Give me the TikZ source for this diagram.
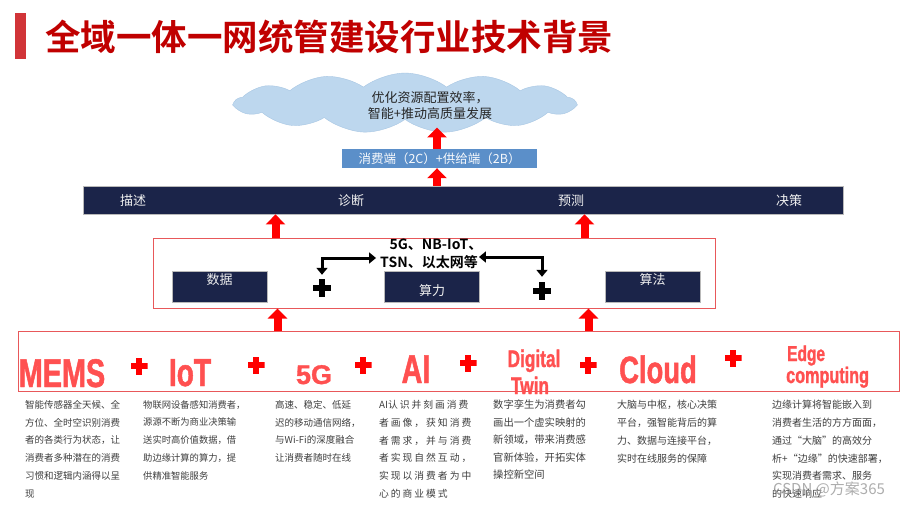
\documentclass[tikz,border=0pt]{standalone}
\usepackage{fontspec}
\setmainfont{Noto Sans CJK SC}[BoldFont={Noto Sans CJK SC Bold}]
\newfontfamily\wordfont{Liberation Sans}[FakeStretch=0.72,BoldFeatures={FakeBold=1.2}]
\newfontfamily\wordfontn{Liberation Sans}[BoldFeatures={FakeBold=1.2}]
\usetikzlibrary{arrows.meta,shapes.symbols,calc}
\definecolor{titlered}{HTML}{C00000}
\definecolor{barred}{HTML}{D13438}
\definecolor{navy}{HTML}{1B2449}
\definecolor{steel}{HTML}{5B8FC9}
\definecolor{cloudc}{HTML}{BDD7EE}
\definecolor{cloudd}{HTML}{A7C6E3}
\definecolor{boxred}{HTML}{E8585A}
\definecolor{wordred}{HTML}{FF5050}
\definecolor{desc}{HTML}{3F3F3F}
\tikzset{
  darkbox/.style={fill=navy, draw=gray!55, line width=0.8pt, minimum width=95pt, minimum height=31pt, inner sep=0},
  boxlabel/.style={text=white!88!gray, font=\fontsize{13}{15}\selectfont, inner sep=0},
  barlabel/.style={text=white!88!gray, font=\fontsize{13}{15}\selectfont, inner sep=0},
  plusmark/.style={inner sep=0, minimum size=#1},
  plusfill/.style n args={2}{path picture={
      \fill[#1] ([yshift=-#2]path picture bounding box.west) rectangle ([yshift=#2]path picture bounding box.east);
      \fill[#1] ([xshift=-#2]path picture bounding box.south) rectangle ([xshift=#2]path picture bounding box.north);}},
  bigword/.style={text=wordred, font=\wordfont\bfseries\fontsize{#1}{#1}\selectfont, inner sep=0, anchor=base},
  desctext/.style={text=desc, align=left, anchor=north west, inner sep=0},
  bigarr/.style={draw=red, line width=8pt, -{Triangle[width=19pt,length=10pt]}},
  elbow/.style={draw=black, line width=3pt, {Triangle[width=11pt,length=7pt]}-{Triangle[width=11pt,length=7pt]}},
}
\begin{document}
\begin{tikzpicture}[x=1pt,y=-1pt]
\useasboundingbox (0,0) rectangle (900,506);
\fill[white] (0,0) rectangle (900,506);

% title
\node[fill=barred, minimum width=11pt, minimum height=46pt, inner sep=0] (tbar) at (20.5,36) {};
\node[anchor=west, text=titlered, font=\bfseries\fontsize{35.5}{40}\selectfont, inner sep=0] (title) at (45,37) {全域一体一网统管建设行业技术背景};

% cloud
\node[cloud, cloud puffs=13, cloud puff arc=75, cloud ignores aspect, minimum width=340pt, minimum height=60pt, fill=cloudc, draw=cloudd, inner sep=0] (cloud) at (405,103) {};
\node[align=center, font=\fontsize{13}{15.5}\selectfont, text=black!85, inner sep=0] (ctext) at (430,105.5) {优化资源配置效率，\\智能+推动高质量发展};
\coordinate (ctip) at ([yshift=-8pt]ctext.south);

% 2C/2B box
\node[fill=steel, minimum width=195pt, minimum height=19pt, inner sep=0, text=white!95!steel, font=\fontsize{12.5}{14}\selectfont] (b2c) at (439.5,158.5) {消费端（2C）+供给端（2B）};

% navy bar
\node[fill=navy, draw=gray!55, line width=0.8pt, minimum width=760pt, minimum height=28pt, inner sep=0] (bar) at (463,200) {};
\node[barlabel] (l1) at (133,201) {描述};
\node[barlabel] (l2) at (351,201) {诊断};
\node[barlabel] (l3) at (571,201) {预测};
\node[barlabel] (l4) at (789,201) {决策};

% middle red box
\node[draw=boxred, line width=1pt, minimum width=562pt, minimum height=70pt, inner sep=0] (redbox) at (434,273) {};
\node[darkbox] (data) at (219.5,286.5) {};
\node[darkbox] (comp) at (432,287) {};
\node[darkbox] (algo) at (652.5,286.5) {};
\node[boxlabel] (datat) at (219.5,280) {数据};
\node[boxlabel] (compt) at (432,291) {算力};
\node[boxlabel] (algot) at (652.5,280) {算法};
\node[plusmark=18pt, plusfill={black}{3pt}] (pk1) at (322,288) {};
\node[plusmark=18pt, plusfill={black}{3pt}] (pk2) at (542,291) {};
\node[font=\bfseries\fontsize{14}{16}\selectfont, inner sep=0] (nl1) at (436,245) {5G、NB-IoT、};
\node[font=\bfseries\fontsize{14}{16}\selectfont, inner sep=0] (nl2) at (429,262) {TSN、以太网等};
\draw[elbow, shorten <=4pt, shorten >=4pt] (pk1.north) |- ([yshift=4pt]nl2.west);
\draw[elbow, shorten <=1pt, shorten >=5pt] ([yshift=5pt]nl2.east) -| (pk2.north);

% bottom box
\node[draw=boxred, line width=1pt, minimum width=881pt, minimum height=60pt, inner sep=0] (botbox) at (458.5,361) {};
\node[bigword=40] (w1) at (62,387) {MEMS};
\node[bigword=39] (w2) at (190,386) {IoT};
\node[bigword=27, font=\wordfontn\bfseries\fontsize{27}{27}\selectfont] (w3) at (314,384) {5G};
\node[bigword=40] (w4) at (416,383) {AI};
\node[bigword=24] (w5) at (534,367) {Digital};
\node[bigword=24] (w6) at (530,394) {Twin};
\node[bigword=38] (w7) at (658,383) {Cloud};
\node[bigword=21.5, anchor=base west] (w8) at (787,361) {Edge};
\node[bigword=22.5, anchor=base west] (w9) at (786,383) {computing};
\node[plusmark=17pt, plusfill={red}{2.6pt}] (p1) at (139,366) {};
\node[plusmark=17pt, plusfill={red}{2.6pt}] (p2) at (256,365) {};
\node[plusmark=17pt, plusfill={red}{2.6pt}] (p3) at (363,365) {};
\node[plusmark=17pt, plusfill={red}{2.6pt}] (p4) at (468,363) {};
\node[plusmark=17pt, plusfill={red}{2.6pt}] (p5) at (588,365) {};
\node[plusmark=17pt, plusfill={red}{2.6pt}] (p6) at (733,358) {};

% descriptions
\node[desctext, font=\fontsize{9.5}{17.8}\selectfont] (d1) at (25,400) {智能传感器全天候、全\\方位、全时空识别消费\\者的各类行为状态，让\\消费者多种潜在的消费\\习惯和逻辑内涵得以呈\\现};
\node[desctext, font=\fontsize{9.3}{17.8}\selectfont] (d2) at (143,400) {物联网设备感知消费者，\\源源不断为商业决策输\\送实时高价值数据，借\\助边缘计算的算力，提\\供精准智能服务};
\node[desctext, font=\fontsize{9.5}{17.8}\selectfont] (d3) at (275,400) {高速、稳定、低延\\迟的移动通信网络，\\与Wi-Fi的深度融合\\让消费者随时在线};
\node[desctext, font=\fontsize{9.8}{17.8}\selectfont\addfontfeature{LetterSpace=20}] (d4) at (379,400) {{\addfontfeature{LetterSpace=0}AI}认识并刻画消费\\者画像，获知消费\\者需求，并与消费\\者实现自然互动，\\实现以消费者为中\\心的商业模式};
\node[desctext, font=\fontsize{10.3}{17.5}\selectfont] (d5) at (493,400) {数字孪生为消费者勾\\画出一个虚实映射的\\新领域，带来消费感\\官新体验，开拓实体\\操控新空间};
\node[desctext, font=\fontsize{10}{17.8}\selectfont] (d6) at (617,400) {大脑与中枢，核心决策\\平台，强智能背后的算\\力、数据与连接平台，\\实时在线服务的保障};
\node[desctext, font=\fontsize{10}{17.8}\selectfont] (d7) at (772,400) {边缘计算将智能嵌入到\\消费者生活的方方面面，\\通过“大脑”的高效分\\析+“边缘”的快速部署，\\实现消费者需求、服务\\的快速响应};
\node[text=gray!75, opacity=0.85, font=\fontsize{15}{17}\selectfont, inner sep=0] (wm) at (829,489) {CSDN @方案365};

% red block arrows
\coordinate (a1) at ([xshift=-2.5pt]b2c.north);
\draw[bigarr] (a1) -- (a1 |- ctip);
\draw[bigarr] (a1 |- bar.north) -- (a1 |- b2c.south);
\coordinate (a3) at ([xshift=123pt]redbox.north west);
\coordinate (a4) at ([xshift=432pt]redbox.north west);
\draw[bigarr] (a3) -- (a3 |- bar.south);
\draw[bigarr] (a4) -- (a4 |- bar.south);
\coordinate (a5) at ([xshift=260pt]botbox.north west);
\coordinate (a6) at ([xshift=571pt]botbox.north west);
\draw[bigarr] (a5) -- (a5 |- redbox.south);
\draw[bigarr] (a6) -- (a6 |- redbox.south);
\end{tikzpicture}
\end{document}
